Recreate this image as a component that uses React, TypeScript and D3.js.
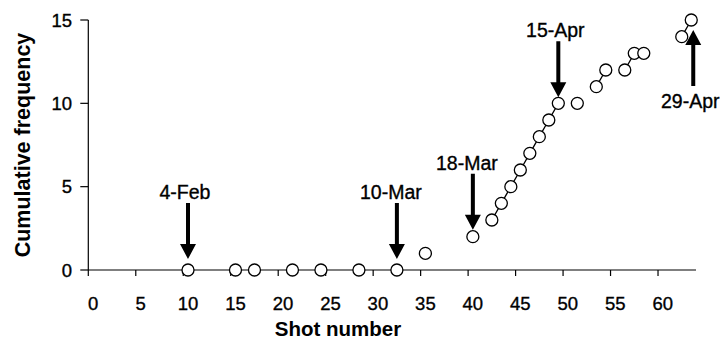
import React from "react";
import * as d3 from "d3";

// Shot numbers at which a hit was recorded, and the running total at each
const shots = [10, 15, 17, 21, 24, 28, 32, 35, 40, 42, 43, 44, 45, 46, 47, 48, 49, 51, 53, 54, 56, 57, 58, 62, 63];
const cumulative = [0, 0, 0, 0, 0, 0, 0, 1, 2, 3, 4, 5, 6, 7, 8, 9, 10, 10, 11, 12, 12, 13, 13, 14, 15];

// Category axis: shots 0..63, labelled every 5
const categoryCount = 64;
const xTickValues = [0, 5, 10, 15, 20, 25, 30, 35, 40, 45, 50, 55, 60];
const yTickValues = [0, 5, 10, 15];

// Dated events marked with arrows
const eventLabels = ["4-Feb", "10-Mar", "18-Mar", "15-Apr", "29-Apr"];
const eventShots = [10, 32, 40, 49, 63];
const eventPointsUp = [false, false, false, false, true];

const W = 725;
const H = 341;
const left = 88.3;
const right = 696;
const top = 20;
const bottom = 270;

const FONT = "'Liberation Sans', Arial, Helvetica, sans-serif";
// slight outline gives the regular-weight labels a heavier look
const TEXT_STROKE = 0.35;

// gap in px between arrow tip and the marker centre, and label nudge
const arrowGap: Record<string, number> = {
  "4-Feb": 11,
  "10-Mar": 11,
  "18-Mar": 7,
  "15-Apr": 6,
  "29-Apr": 10,
};
const labelNudge: Record<string, number> = {
  "4-Feb": -3,
  "10-Mar": -6,
  "18-Mar": -6,
  "15-Apr": -3,
  "29-Apr": -3,
};

function arrowPath(x: number, tipY: number, dir: 1 | -1) {
  // dir = 1 points down, -1 points up
  const len = 56;
  const headLen = 15;
  const headHalf = 8;
  const shaftHalf = 2;
  const tailY = tipY - dir * len;
  const headBase = tipY - dir * headLen;
  return [
    `M${x - shaftHalf},${tailY}`,
    `L${x + shaftHalf},${tailY}`,
    `L${x + shaftHalf},${headBase}`,
    `L${x + headHalf},${headBase}`,
    `L${x},${tipY}`,
    `L${x - headHalf},${headBase}`,
    `L${x - shaftHalf},${headBase}`,
    "Z",
  ].join(" ");
}

export default function App() {
  const categories = d3.range(categoryCount);
  const x = d3.scaleBand<number>().domain(categories).range([left, right]).padding(0);
  const cx = (n: number) => (x(n) as number) + x.bandwidth() / 2;
  const y = d3.scaleLinear().domain([0, 15]).range([bottom, top]);

  // one slot per shot; empty slots break the line
  const byShot = new Map<number, number>();
  shots.forEach((s, i) => byShot.set(s, cumulative[i]));
  const series = categories.map((c) => ({ shot: c, value: byShot.has(c) ? (byShot.get(c) as number) : null }));

  const line = d3
    .line<{ shot: number; value: number | null }>()
    .defined((d) => d.value !== null)
    .x((d) => cx(d.shot))
    .y((d) => y(d.value as number));

  const valueAt = (s: number) => byShot.get(s) ?? 0;

  return (
    <svg
      width={W}
      height={H}
      viewBox={`0 0 ${W} ${H}`}
      style={{ position: "absolute", left: 0, top: 0, display: "block", background: "#fff" }}
    >
      <rect x={0} y={0} width={W} height={H} fill="#fff" />

      {/* y axis */}
      <line x1={left} x2={left} y1={top} y2={bottom} stroke="#000" strokeWidth={1.2} />
      {yTickValues.map((t) => (
        <g key={`y${t}`}>
          <line x1={left - 8} x2={left} y1={y(t)} y2={y(t)} stroke="#000" strokeWidth={1.2} />
          <text
            x={72}
            y={y(t)}
            dy="0.36em"
            textAnchor="end"
            fontFamily={FONT}
            fontSize={18.5}
            fill="#000"
            stroke="#000"
            strokeWidth={TEXT_STROKE}
          >
            {t}
          </text>
        </g>
      ))}

      {/* x axis */}
      <line x1={left} x2={right} y1={bottom} y2={bottom} stroke="#000" strokeWidth={1.2} />
      {xTickValues.map((t) => (
        <g key={`x${t}`}>
          <line x1={x(t) as number} x2={x(t) as number} y1={bottom} y2={bottom + 6} stroke="#000" strokeWidth={1.2} />
          <text
            x={cx(t)}
            y={310}
            textAnchor="middle"
            fontFamily={FONT}
            fontSize={18.5}
            fill="#000"
            stroke="#000"
            strokeWidth={TEXT_STROKE}
          >
            {t}
          </text>
        </g>
      ))}

      {/* axis titles */}
      <text x={338} y={336} textAnchor="middle" fontFamily={FONT} fontSize={20.5} fontWeight="bold" fill="#000">
        Shot number
      </text>
      <text
        transform={`translate(30,145) rotate(-90)`}
        textAnchor="middle"
        fontFamily={FONT}
        fontSize={21.5}
        fontWeight="bold"
        fill="#000"
      >
        Cumulative frequency
      </text>

      {/* series line and markers */}
      <path d={line(series) || ""} fill="none" stroke="#000" strokeWidth={1.3} />
      {shots.map((s, i) => (
        <circle key={`p${s}`} cx={cx(s)} cy={y(cumulative[i])} r={6} fill="#fff" stroke="#000" strokeWidth={1.3} />
      ))}

      {/* event arrows */}
      {eventLabels.map((label, i) => {
        const s = eventShots[i];
        const up = eventPointsUp[i];
        const px = cx(s) + (up ? 2 : 0);
        const py = y(valueAt(s));
        const gap = arrowGap[label];
        const tipY = up ? py + gap : py - gap;
        const tailY = up ? tipY + 56 : tipY - 56;
        return (
          <g key={label}>
            <path d={arrowPath(px, tipY, up ? -1 : 1)} fill="#000" />
            <text
              x={px + labelNudge[label]}
              y={up ? tailY + 22 : tailY - 4}
              textAnchor="middle"
              fontFamily={FONT}
              fontSize={19.5}
              fill="#000"
              stroke="#000"
              strokeWidth={TEXT_STROKE}
            >
              {label}
            </text>
          </g>
        );
      })}
    </svg>
  );
}
